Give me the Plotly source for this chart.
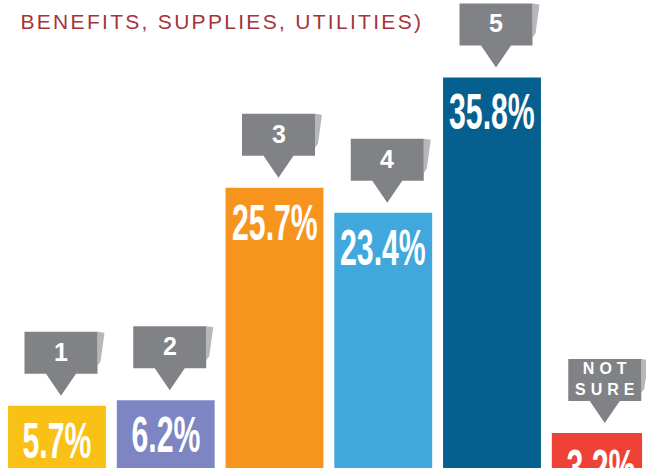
import plotly.graph_objects as go

categories = ["1", "2", "3", "4", "5", "Not sure"]
values = [5.7, 6.2, 25.7, 23.4, 35.8, 3.2]
value_labels = ["5.7%", "6.2%", "25.7%", "23.4%", "35.8%", "3.2%"]
callout_labels = ["1", "2", "3", "4", "5", "NOT<br>SURE"]
title_text = "BENEFITS, SUPPLIES, UTILITIES)"

colors = ["#F9C015", "#7D86C3", "#F7941D", "#40A8DD", "#05608F", "#EE4237"]
bar_widths = [0.9, 0.9, 0.9, 0.9, 0.9, 0.83]
CALLOUT_GRAY = "#808285"
SHADOW_GRAY = "#B5B7BA"
TITLE_SPACING = 2.3

fig = go.Figure()
fig.add_trace(go.Bar(
    x=categories, y=values,
    width=bar_widths, offset=[-0.45] * len(values),
    marker=dict(color=colors, line=dict(width=0)),
    hoverinfo="skip",
))

dx = 4
shapes = []
annotations = []
for i, (v, lab, cl) in enumerate(zip(values, value_labels, callout_labels)):
    L, R = dx - 36.5, dx + 36.5
    path = (f"M{L},32 L{dx-15},32 L{dx},10 L{dx+15},32 L{R},32 "
            f"L{R},74 L{L},74 Z")
    shadow = f"M{R},74 L{R+7},73 L{R+3},44 L{R},40 Z"
    for p, c in ((shadow, SHADOW_GRAY), (path, CALLOUT_GRAY)):
        shapes.append(dict(
            type="path", path=p, xref="x", yref="y",
            xsizemode="pixel", ysizemode="pixel",
            xanchor=i, yanchor=v,
            fillcolor=c, line=dict(width=0), layer="above",
        ))
    small = "<br>" in cl
    annotations.append(dict(
        x=i, y=v, xref="x", yref="y", text=f"<b>{cl}</b>", showarrow=False,
        xshift=dx + (2.5 if small else 0), yshift=54,
        font=dict(family="Liberation Sans, Arial", size=16 if small else 25,
                  color="white"),
        xanchor="center", yanchor="middle",
    ))
    annotations.append(dict(
        x=i, y=v, xref="x", yref="y", text=f"<b>{lab}</b>", showarrow=False,
        yshift=-5, xanchor="center", yanchor="top",
        font=dict(family="Liberation Sans, Arial", size=50, color="white"),
    ))

annotations.append(dict(
    x=0, y=1, xref="paper", yref="paper", xanchor="left", yanchor="top",
    xshift=18 + len(title_text) * TITLE_SPACING / 2, yshift=-8,
    showarrow=False, text=title_text,
    font=dict(family="Liberation Sans, Arial", size=21, color="#A4343A"),
))

fig.update_layout(
    width=646, height=468,
    margin=dict(l=0, r=0, t=0, b=0),
    paper_bgcolor="white", plot_bgcolor="white",
    showlegend=False,
    shapes=shapes, annotations=annotations,
    xaxis=dict(type="category", range=[-0.524, 5.416], visible=False),
    yaxis=dict(range=[0, 42.9], visible=False),
)

post = """
document.body.style.margin = '0';
var gd = document.getElementById('{plot_id}');
function styleTexts() {
  gd.querySelectorAll('text.annotation-text').forEach(function (t) {
    var s = t.textContent;
    if (s.indexOf('%') >= 0) {
      t.style.transformBox = 'fill-box';
      t.style.transformOrigin = 'center';
      t.style.transform = 'scaleX(0.605)';
    } else if (s.indexOf('NOT') >= 0) {
      t.style.letterSpacing = '5px';
    } else if (s.indexOf('BENEFITS') >= 0) {
      t.style.letterSpacing = '__SP__px';
    }
  });
}
styleTexts();
gd.on('plotly_afterplot', styleTexts);
""".replace("__SP__", str(TITLE_SPACING))

fig.write_html("out.html", post_script=post,
               config={"displayModeBar": False, "staticPlot": True})
